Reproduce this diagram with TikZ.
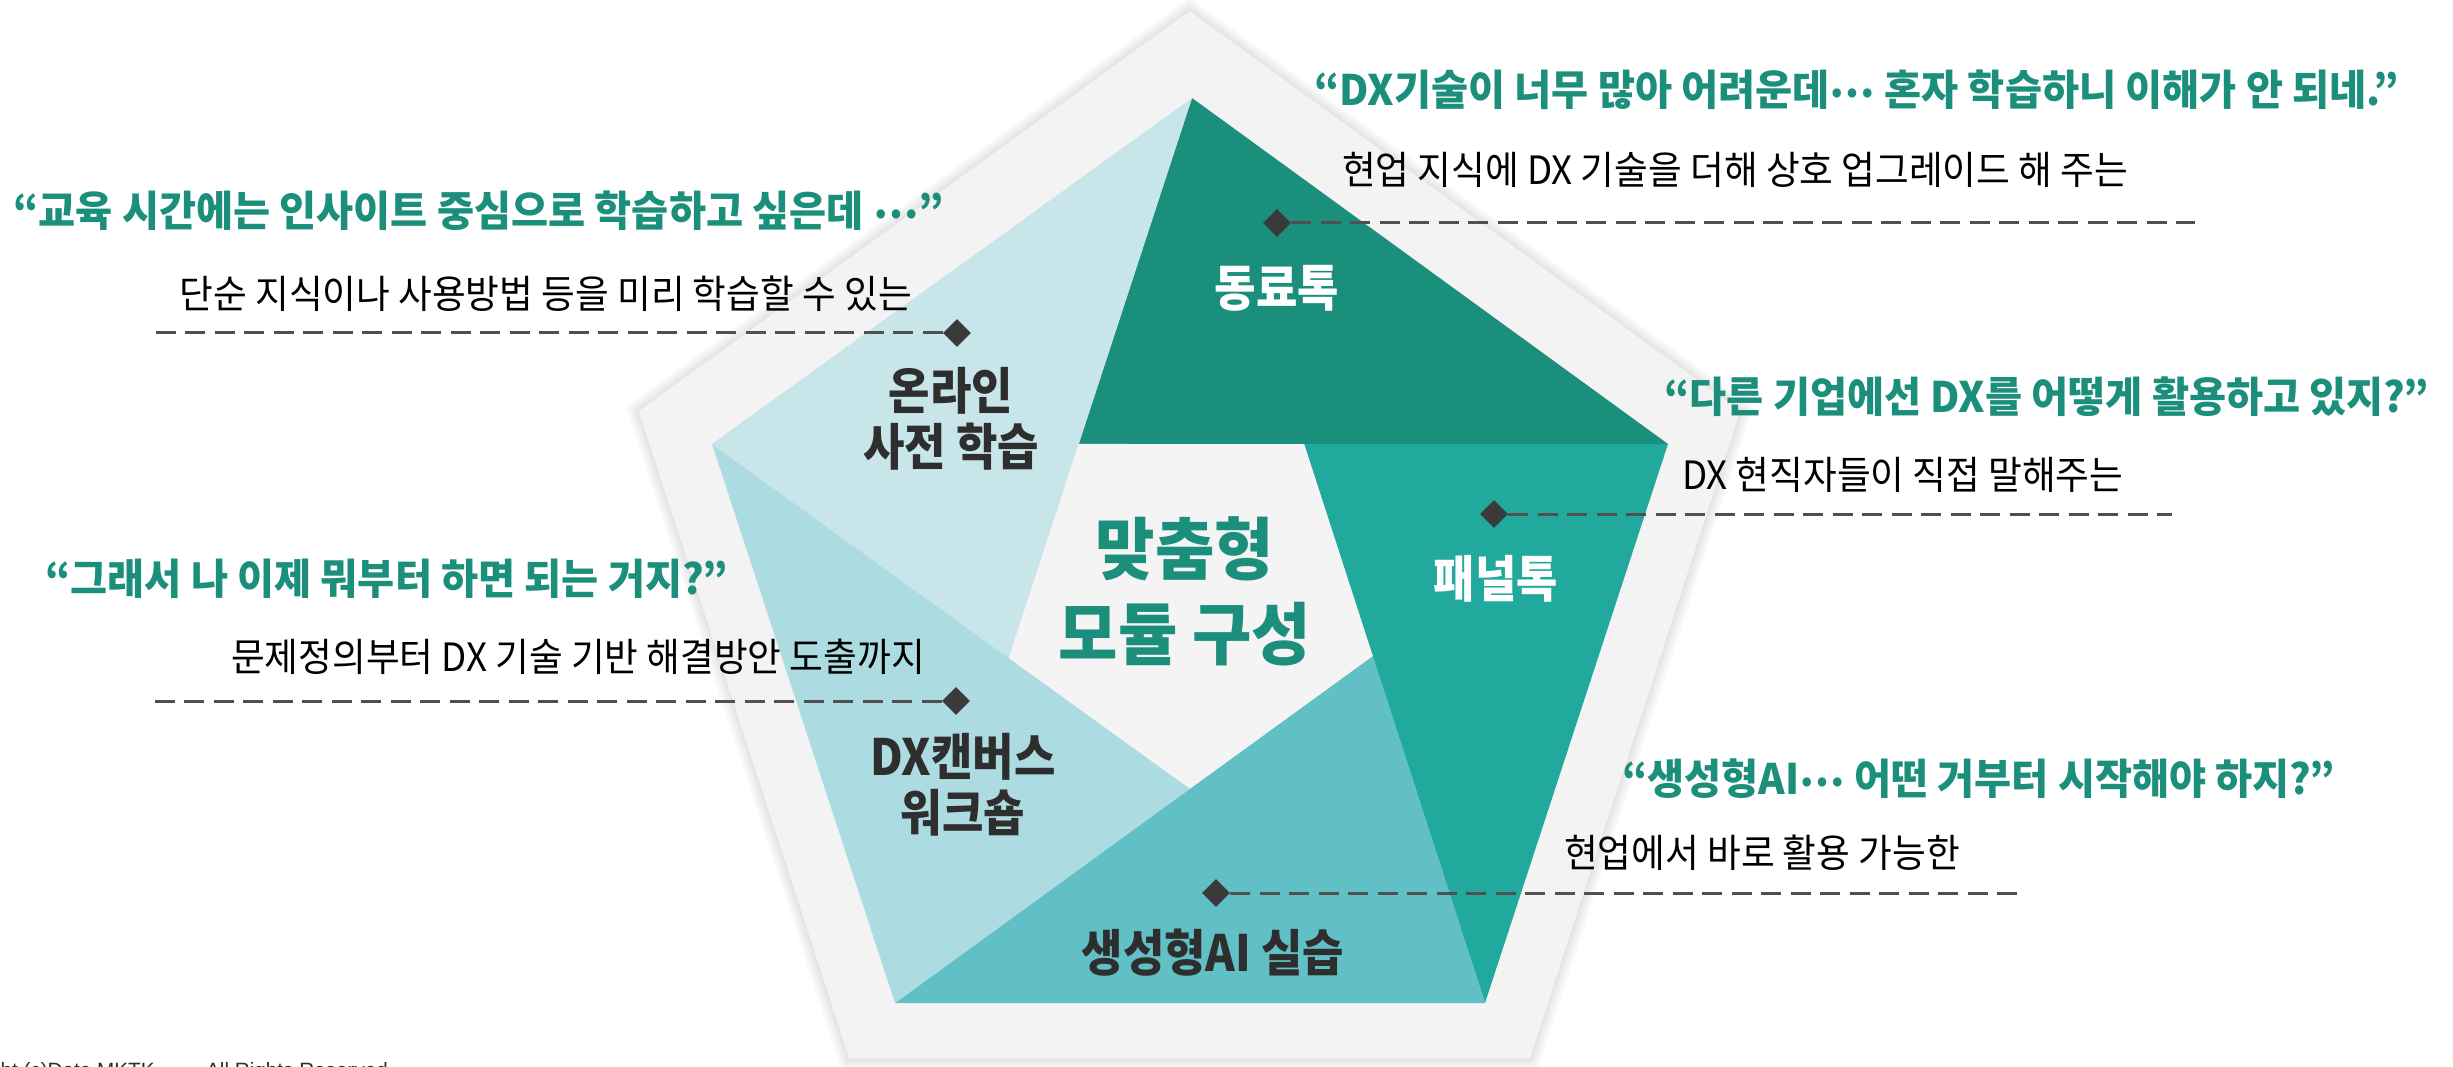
\documentclass[tikz,border=0pt]{standalone}
\usepackage{fontspec}
\setmainfont{Noto Sans CJK KR}
\newfontfamily\krT[FakeStretch=0.96]{Noto Sans CJK KR}
\newfontfamily\krS[FakeStretch=0.94]{Noto Sans CJK KR}
\newfontfamily\krL[FakeStretch=0.9]{Noto Sans CJK KR}
\newfontfamily\krC[FakeStretch=0.95]{Noto Sans CJK KR}
\newfontfamily\latf{Liberation Sans}
\newcommand\middots{\raisebox{8pt}{⋯}}
\usetikzlibrary{shapes.geometric}
\definecolor{cDark}{HTML}{1A8F7C}
\definecolor{cPanel}{HTML}{21A99D}
\definecolor{cGen}{HTML}{60C0C5}
\definecolor{cCanvas}{HTML}{ACDBE1}
\definecolor{cOnline}{HTML}{C8E5E9}
\definecolor{cOuter}{HTML}{F3F3F3}
\definecolor{cCenter}{HTML}{F4F4F4}
\definecolor{cTitle}{HTML}{1B8F7B}
\definecolor{cLabel}{HTML}{2E2E2E}
\definecolor{cLine}{HTML}{505050}
\definecolor{cMark}{HTML}{3A3A3A}
\begin{document}
\begin{tikzpicture}[x=1pt,y=-1pt,
  quote/.style={inner sep=0pt, text=cTitle, font=\krT\bfseries\fontsize{42}{50}\selectfont},
  sub/.style={inner sep=0pt, text=black, font=\krS\fontsize{39}{46}\selectfont},
  lab/.style={inner sep=0pt, align=center, text=cLabel, font=\krL\bfseries\fontsize{50}{56}\selectfont},
  wlab/.style={lab, text=white},
  markd/.style={shape=diamond, fill=cMark, minimum width=28pt, minimum height=28pt, inner sep=0pt},
  dline/.style={cLine, line width=3pt, dash pattern=on 20pt off 9.5pt}]
\useasboundingbox (0,0) rectangle (2453,1067);
\clip (0,0) rectangle (2453,1067);

% soft shadow of the outer pentagon
\foreach \k [evaluate=\k as \r using 579+\k*1.6] in {1,...,9}{
  \fill[black,opacity=0.012] (1189.5,{590-\r}) -- ({1189.5+0.9511*\r},{590-0.309*\r})
    -- ({1189.5+0.5878*\r},{590+0.809*\r}) -- ({1189.5-0.5878*\r},{590+0.809*\r})
    -- ({1189.5-0.9511*\r},{590-0.309*\r}) -- cycle;
}
% outer pentagon
\fill[cOuter] (1189.5,11) -- (1740.2,411.1) -- (1529.8,1058.4) -- (849.2,1058.4) -- (638.8,411.1) -- cycle;

% inner pinwheel pentagon
\coordinate (T)  at (1192,98);
\coordinate (UR) at (1668,444);
\coordinate (LR) at (1485,1003);
\coordinate (LL) at (895,1003);
\coordinate (UL) at (712,444);
\coordinate (hIL) at (1009,657);
\coordinate (hITR) at (1304,444);
\coordinate (hIR) at (1371,657);
\coordinate (hIB) at (1189,788);
\coordinate (ITL) at (intersection of T--hIL and UL--UR);
\coordinate (ITR) at (intersection of LR--hITR and UL--UR);
\coordinate (IR)  at (intersection of LR--hITR and LL--hIR);
\coordinate (IB)  at (intersection of LL--hIR and UL--hIB);
\coordinate (IL)  at (intersection of UL--hIB and T--hIL);

\fill[cDark]   (T) -- (UR) -- (ITL) -- cycle;
\fill[cPanel]  (UR) -- (LR) -- (ITR) -- cycle;
\fill[cGen]    (LR) -- (LL) -- (IR) -- cycle;
\fill[cCanvas] (LL) -- (UL) -- (IB) -- cycle;
\fill[cOnline] (UL) -- (T) -- (IL) -- cycle;
\fill[cCenter] (ITL) -- (ITR) -- (IR) -- (IB) -- (IL) -- cycle;

% labels inside
\node[wlab] (peer) at (1277,288) {동료톡};
\node[wlab] (panel) at (1496,579) {패널톡};
\node[lab] (online) at (951,419) {온라인\\사전 학습};
\node[lab] (canvas) at (963,785) {DX캔버스\\워크숍};
\node[lab] (genai) at (1213,953) {생성형AI 실습};
\node[lab, text=cTitle, font=\krC\bfseries\fontsize{68}{85}\selectfont] (core) at (1185,591) {맞춤형\\모듈 구성};

% markers and dashed leaders
\node[markd] (m1) at (1277,223) {};
\node[markd] (m2) at (957,333) {};
\node[markd] (m3) at (1494,514) {};
\node[markd] (m4) at (956,701) {};
\node[markd] (m5) at (1216,893) {};
\coordinate (e1) at (2195,223);
\coordinate (e2) at (153,333);
\coordinate (e3) at (2172,514);
\coordinate (e4) at (153,701);
\coordinate (e5) at (2018,893);
\draw[dline] (m1.east) -- (e1);
\draw[dline] (m2.west) -- (e2);
\draw[dline] (m3.east) -- (e3);
\draw[dline] (m4.west) -- (e4);
\draw[dline] (m5.east) -- (e5);

% quotes and descriptions
\node[quote, anchor=west] (q1) at (1314,90) {“DX기술이 너무 많아 어려운데\middots{} 혼자 학습하니 이해가 안 되네.”};
\node[sub, anchor=west] (s1) at (1342,170) {현업 지식에 DX 기술을 더해 상호 업그레이드 해 주는};
\node[quote, anchor=west] (q2) at (13,211) {“교육 시간에는 인사이트 중심으로 학습하고 싶은데 \middots”};
\node[sub, anchor=east] (s2) at (912,294) {단순 지식이나 사용방법 등을 미리 학습할 수 있는};
\node[quote, anchor=west] (q3) at (45,579) {“그래서 나 이제 뭐부터 하면 되는 거지?”};
\node[sub, anchor=east] (s3) at (925,657) {문제정의부터 DX 기술 기반 해결방안 도출까지};
\node[quote, anchor=west] (q4) at (1664,397) {“다른 기업에선 DX를 어떻게 활용하고 있지?”};
\node[sub, anchor=west] (s4) at (1682,475) {DX 현직자들이 직접 말해주는};
\node[quote, anchor=west] (q5) at (1622,779) {“생성형AI\middots{} 어떤 거부터 시작해야 하지?”};
\node[sub, anchor=west] (s5) at (1564,853) {현업에서 바로 활용 가능한};

% copyright line, cut by the lower edge
\node[inner sep=0pt, anchor=base west, text=cLabel, font=\latf\fontsize{20.7}{24}\selectfont] (copy) at (-71,1077) {Copyright (c)Data MKTK.\hspace{40pt} All Rights Reserved};
\end{tikzpicture}
\end{document}
